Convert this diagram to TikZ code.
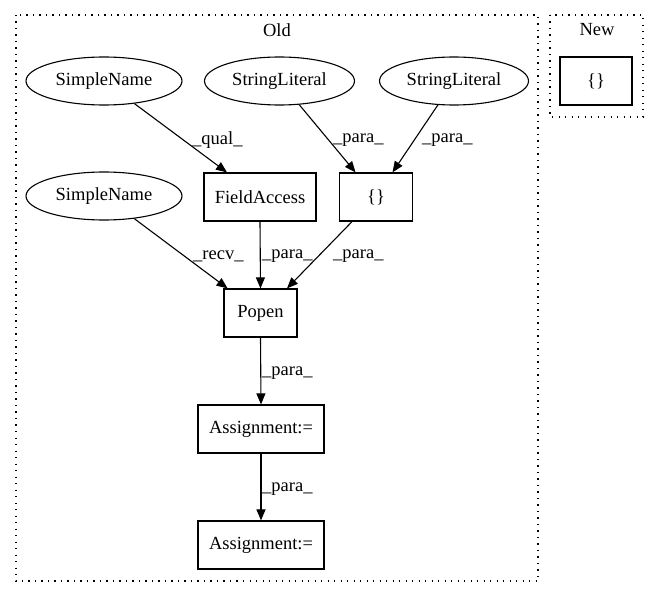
\documentclass[tikz,border=0pt]{standalone}
\usepackage{fontspec}
\setmainfont{Liberation Serif}
\usetikzlibrary{arrows.meta,shapes.geometric}
\begin{document}
\begin{tikzpicture}[x=1pt,y=-1pt,
  every node/.style={font=\fontsize{18.5}{20}\selectfont},
  ell/.style={draw, ellipse, line width=1.1pt, minimum width=156pt, minimum height=48pt, inner sep=0pt},
  box/.style={draw, rectangle, line width=1.2pt, minimum height=48pt, inner sep=0pt},
  cluster/.style={draw, line width=1.3pt, dash pattern=on 1.3pt off 5.2pt},
  lbl/.style={inner sep=0pt, anchor=west},
  edge/.style={line width=1.1pt, -{Triangle[length=11pt,width=9pt]}}]
\useasboundingbox (0,0) rectangle (659,596);
% clusters
\draw[cluster] (16,15) rectangle (538,581);
\node (oldt) at (277,30) {Old};
\draw[cluster] (550,15) rectangle (643,117);
\node (newt) at (597,30) {New};
\node[box, minimum width=72pt] (nb) at (596,81) {\{\}};
% nodes
\node[ell] (sn1) at (104,81) {SimpleName};
\node[ell, minimum width=150pt] (sl1) at (279.5,81) {StringLiteral};
\node[ell, minimum width=149pt] (sl2) at (454,81) {StringLiteral};
\node[ell] (sn2) at (104,196) {SimpleName};
\node[box, minimum width=112pt] (fa) at (260,197) {FieldAccess};
\node[box, minimum width=73pt] (br) at (376,197) {\{\}};
\node[box, minimum width=73pt] (po) at (260.5,313) {Popen};
\node[box, minimum width=126pt] (a1) at (261,429) {Assignment:=};
\node[box, minimum width=126pt] (a2) at (261,545) {Assignment:=};
\coordinate (poin) at (287,313);
% edges
\draw[edge] (sn1) -- (fa);
\draw[edge] (sl1) -- (br);
\draw[edge] (sl2) -- (br);
\draw[edge] (sn2) -- (po);
\draw[edge] (fa.south) -- (po.north);
\draw[edge] (br) -- (poin |- po.north) ;
\draw[edge] (po.south) -- (a1.north);
\draw[edge] (a1.south) -- (a2.north);
% labels
\node[lbl] (l1) at (192,140) {\_qual\_};
\node[lbl] (l2) at (333,140) {\_para\_};
\node[lbl] (l3) at (422,140) {\_para\_};
\node[lbl] (l4) at (193,256) {\_recv\_};
\node[lbl] (l5) at (262,256) {\_para\_};
\node[lbl] (l6) at (333,256) {\_para\_};
\node[lbl] (l7) at (262,373) {\_para\_};
\node[lbl] (l8) at (262,489) {\_para\_};
\end{tikzpicture}
\end{document}
